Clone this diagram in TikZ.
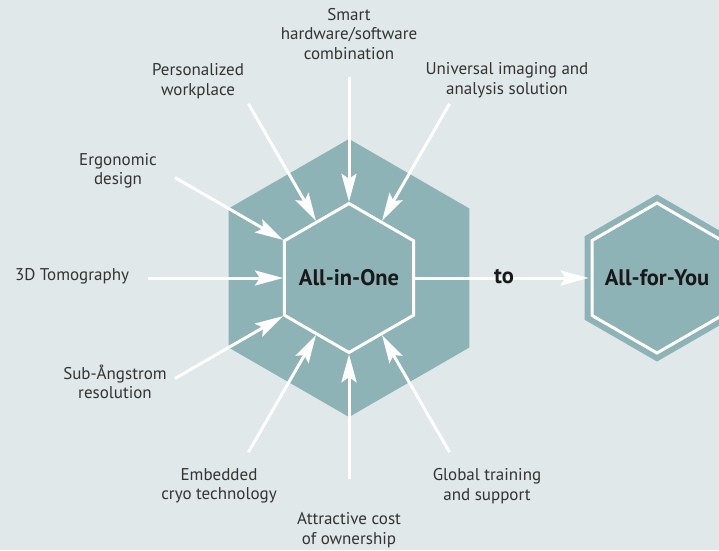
\documentclass[tikz,border=0pt]{standalone}
\usepackage{fontspec}
\setmainfont{PT Sans}
\usepackage{xcolor}
\usetikzlibrary{shapes.geometric}
\usetikzlibrary{arrows.meta}
\definecolor{bgcol}{HTML}{E0E8E9}
\definecolor{hexcol}{HTML}{8DB3B7}
\definecolor{txtcol}{HTML}{333333}

\begin{document}
\begin{tikzpicture}[x=1pt,y=1pt,
  hex/.style={regular polygon,regular polygon sides=6,shape border rotate=30,inner sep=0pt},
  feat/.style={align=center,text=txtcol,font=\fontsize{17}{19.5}\selectfont},
  big/.style={text=black!90,font=\bfseries\fontsize{22.5}{24}\selectfont},
  arr/.style={white,line width=3pt,-{Stealth[length=28pt,width=15pt,inset=5pt]}}]
  \clip (-349,-272) rectangle (370,278);
  \fill[bgcol] (-349,-272) rectangle (370,278);
  % hexagons
  \node[hex,fill=hexcol,minimum size=278pt] (back) at (0,0) {};
  \node[hex,draw=white,line width=3pt,fill=hexcol,minimum size=149pt] (one) at (0,0) {};
  \node[hex,fill=hexcol,minimum size=167pt] (youback) at (308,0) {};
  \node[hex,draw=white,line width=3pt,fill=hexcol,minimum size=150pt] (you) at (308,0) {};
  \node[big] (onetext) at (one) {All-in-One};
  \node[big] (youtext) at (you) {All-for-You};
  % arrow tails
  \coordinate (t60) at (60:201);
  \coordinate (t90) at (90:201);
  \coordinate (t120) at (120:201);
  \coordinate (t150) at (150:201);
  \coordinate (t180) at (180:201);
  \coordinate (t210) at (210:201);
  \coordinate (t240) at (240:201);
  \coordinate (t270) at (270:201);
  \coordinate (t300) at (300:201);
  \draw[arr] (t60) -- (one.60);
  \draw[arr] (t90) -- (one.90);
  \draw[arr] (t120) -- (one.120);
  \draw[arr] (t150) -- (one.150);
  \draw[arr] (t180) -- (one.180);
  \draw[arr] (t210) -- (one.210);
  \draw[arr] (t240) -- (one.240);
  \draw[arr] (t270) -- (one.270);
  \draw[arr] (t300) -- (one.300);
  \draw[arr,shorten >=2pt] (one.0) -- (you.180);
  \node[big] (to) at (155,1) {to};
  % labels
  \node[feat] (smart) at (0,244) {Smart\\hardware/software\\combination};
  \node[feat] (univ) at (158,198) {Universal imaging and\\analysis solution};
  \node[feat] (pers) at (-151,197) {Personalized\\workplace};
  \node[feat] (ergo) at (-231,107) {Ergonomic\\design};
  \node[feat] (tomo) at (-277,2) {3D Tomography};
  \node[feat] (sub) at (-234,-104) {Sub-Ångstrom\\resolution};
  \node[feat] (cryo) at (-130,-208) {Embedded\\cryo technology};
  \node[feat] (cost) at (0,-252) {Attractive cost\\of ownership};
  \node[feat] (train) at (138,-208) {Global training\\and support};
\end{tikzpicture}
\end{document}
